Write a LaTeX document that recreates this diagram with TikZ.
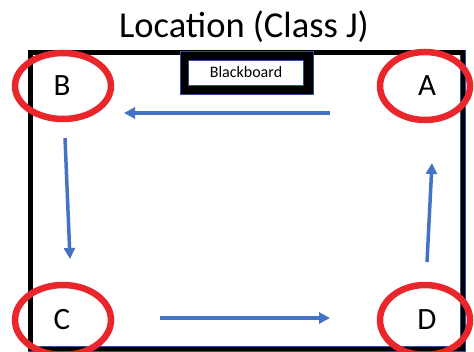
\documentclass[tikz,border=0pt]{standalone}
\usepackage{fontspec}
\setmainfont{Carlito}
\usetikzlibrary{arrows.meta,shapes.geometric}
\definecolor{ringred}{HTML}{E8262B}
\definecolor{flowblue}{HTML}{4472C4}
\definecolor{edgeblue}{HTML}{2F4F9F}
\begin{document}
\begin{tikzpicture}[x=1pt,y=-1pt,
  ring/.style={draw=ringred,line width=6.5pt,ellipse,inner sep=0pt},
  letter/.style={font=\fontsize{31}{33}\selectfont},
  flow/.style={draw=flowblue,line width=3.5pt,-{Triangle[length=11pt,width=11pt]}},
  wall/.style={draw=edgeblue,line width=5.5pt},
  wallcore/.style={draw=black,line width=4.2pt}]
\useasboundingbox (0,0) rectangle (474,351);
\fill[white] (0,0) rectangle (474,351);
% title
\node[font=\fontsize{36.5}{40}\selectfont] (title) at (244,27) {Location (Class J)};
% room walls
\draw[wall] (30.5,52.5) rectangle (463,349);
\draw[wallcore] (30.5,52.5) rectangle (463,349);
% blackboard
\filldraw[fill=black,draw=edgeblue,line width=0.8pt] (180,51) rectangle (313,94);
\node[draw=edgeblue,line width=0.8pt,fill=white,minimum width=115pt,minimum height=25pt,inner sep=0pt,
  font=\fontsize{16}{18}\selectfont] (board) at (246,72.5) {Blackboard};
% corner rings
\node[ring,minimum width=96pt,minimum height=66pt] (ringB) at (63,86) {};
\node[ring,minimum width=90pt,minimum height=68pt] (ringA) at (425,86) {};
\node[ring,minimum width=96pt,minimum height=70pt] (ringC) at (63,320) {};
\node[ring,minimum width=90pt,minimum height=70pt] (ringD) at (425,320) {};
\node[letter] (B) at (62,86) {B};
\node[letter] (A) at (427,86) {A};
\node[letter] (C) at (62,320) {C};
\node[letter] (D) at (427,320) {D};
% flow arrows
\coordinate (t1) at (330,113);
\coordinate (t2) at (124,113);
\coordinate (l1) at (65,138);
\coordinate (l2) at (70,259);
\coordinate (b1) at (160,318);
\coordinate (b2) at (330,318);
\coordinate (r1) at (427,262);
\coordinate (r2) at (432,163);
\draw[flow] (t1) -- (t2);
\draw[flow] (l1) -- (l2);
\draw[flow] (b1) -- (b2);
\draw[flow] (r1) -- (r2);
\end{tikzpicture}
\end{document}
